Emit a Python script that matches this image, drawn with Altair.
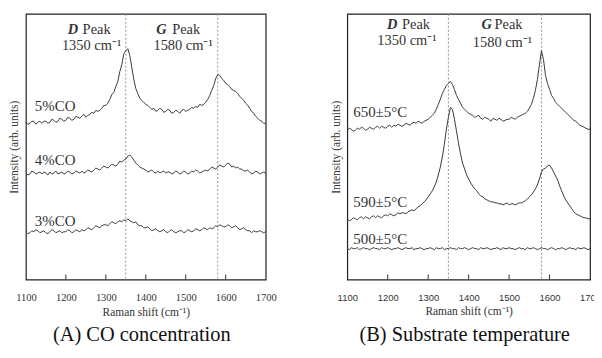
import altair as alt
import pandas as pd

# ---------------- data ----------------
wavenumber = list(range(1100, 1701, 5))

co5 = [157, 155, 156, 158, 158, 155, 157, 158, 156, 158, 158, 156, 157, 160, 159, 157, 158, 161, 160, 158,
       159, 162, 161, 159, 160, 163, 162, 161, 163, 165, 162, 164, 165, 167, 166, 169, 168, 169, 171, 174,
       174, 176, 180, 185, 187, 193, 198, 208, 215, 226, 229, 231, 224, 212, 200, 191, 186, 181, 179, 177,
       175, 174, 172, 170, 171, 168, 169, 171, 170, 167, 168, 170, 169, 166, 167, 169, 168, 166, 169, 170,
       168, 169, 170, 172, 171, 173, 172, 175, 174, 175, 177, 180, 184, 189, 194, 201, 205, 204, 201, 199,
       196, 195, 193, 190, 189, 188, 186, 183, 181, 179, 176, 174, 171, 168, 166, 163, 161, 159, 158, 156,
       156]
co4 = [106, 104, 105, 108, 107, 105, 106, 107, 105, 107, 106, 104, 107, 105, 106, 108, 105, 106, 107, 105,
       106, 108, 107, 105, 106, 108, 107, 106, 108, 106, 107, 109, 108, 107, 109, 111, 110, 109, 111, 113,
       112, 111, 113, 115, 114, 113, 115, 118, 117, 119, 120, 123, 124, 122, 119, 116, 114, 112, 111, 110,
       109, 107, 108, 109, 107, 106, 108, 106, 107, 108, 106, 107, 107, 105, 106, 108, 107, 105, 106, 108,
       107, 105, 106, 108, 107, 109, 108, 106, 107, 108, 109, 108, 110, 112, 111, 110, 112, 114, 113, 112,
       114, 116, 115, 112, 113, 111, 112, 110, 110, 108, 108, 109, 107, 105, 106, 108, 107, 105, 106, 107,
       106]
co3 = [47, 45, 46, 48, 47, 49, 48, 46, 47, 48, 46, 45, 47, 49, 48, 46, 47, 48, 46, 47,
       47, 49, 48, 46, 47, 49, 48, 47, 49, 48, 49, 51, 50, 49, 51, 53, 52, 51, 53, 54,
       54, 53, 55, 57, 56, 55, 57, 58, 57, 59, 58, 60, 58, 57, 56, 57, 54, 53, 53, 51,
       51, 52, 50, 48, 49, 50, 48, 47, 48, 49, 47, 46, 48, 49, 47, 46, 47, 48, 48, 46,
       47, 49, 48, 47, 48, 50, 49, 48, 49, 51, 50, 49, 51, 50, 51, 53, 52, 54, 53, 52,
       52, 54, 53, 51, 52, 53, 51, 49, 50, 51, 49, 48, 48, 46, 48, 47, 47, 48, 47, 46,
       47]

t650 = [149, 151, 150, 148, 149, 151, 150, 152, 151, 149, 150, 152, 151, 150, 152, 153, 151, 153, 152, 151,
        153, 154, 152, 154, 153, 155, 154, 153, 154, 156, 155, 154, 156, 157, 156, 158, 157, 156, 158, 159,
        160, 162, 164, 166, 170, 175, 180, 186, 190, 194, 196, 198, 195, 190, 184, 180, 176, 172, 170, 168,
        166, 165, 164, 162, 163, 164, 161, 160, 162, 161, 160, 158, 161, 160, 159, 161, 160, 158, 159, 160,
        160, 162, 161, 160, 162, 163, 164, 165, 166, 168, 171, 175, 181, 189, 200, 215, 229, 220, 204, 196,
        190, 184, 181, 177, 175, 173, 171, 169, 167, 165, 163, 161, 159, 158, 156, 154, 153, 152, 151, 150,
        150]
t590 = [60, 58, 59, 61, 60, 59, 61, 62, 60, 62, 61, 60, 62, 63, 61, 63, 62, 61, 63, 64,
        63, 65, 64, 63, 64, 66, 65, 66, 66, 65, 67, 68, 69, 68, 70, 72, 73, 75, 77, 79,
        82, 85, 88, 92, 97, 104, 112, 122, 135, 150, 162, 172, 170, 160, 148, 136, 125, 116, 110, 104,
        100, 96, 93, 90, 88, 85, 83, 82, 80, 79, 78, 77, 77, 76, 76, 75, 75, 74, 75, 76,
        74, 75, 75, 74, 75, 76, 76, 77, 78, 80, 82, 84, 87, 90, 94, 100, 107, 110, 111, 113,
        114, 111, 107, 103, 99, 93, 88, 83, 79, 76, 73, 70, 67, 65, 64, 63, 62, 61, 61, 60,
        60]
t500 = [30, 29, 31, 30, 30, 31, 29, 30, 31, 30, 30, 29, 30, 31, 30, 30, 29, 31, 30, 30,
        31, 30, 29, 30, 30, 31, 30, 29, 30, 31, 30, 30, 31, 29, 30, 30, 31, 30, 29, 30,
        30, 31, 30, 29, 31, 30, 30, 31, 29, 30, 30, 31, 30, 30, 29, 31, 30, 30, 31, 30,
        29, 30, 31, 30, 30, 29, 31, 30, 30, 31, 30, 29, 30, 30, 31, 30, 29, 31, 30, 30,
        31, 30, 30, 29, 30, 31, 30, 30, 29, 31, 30, 30, 31, 30, 29, 30, 31, 30, 30, 29,
        30, 31, 30, 29, 30, 30, 31, 30, 29, 30, 31, 30, 30, 29, 31, 30, 30, 31, 30, 29,
        30]

labels_a = ["5%CO", "4%CO", "3%CO"]
labels_b = ["650±5°C", "590±5°C", "500±5°C"]
tick_values = [1100, 1200, 1300, 1400, 1500, 1600, 1700]
inner_ticks = [1200, 1300, 1400, 1500, 1600]
peak_positions = [1350, 1580]
peak_names = ["D", "G"]
peak_texts = ["1350 cm⁻¹", "1580 cm⁻¹"]
captions = ["(A) CO concentration", "(B) Substrate temperature"]

SERIF = "Liberation Serif"
SANS = "Liberation Sans"
INK = "#333333"
H = 267


def one(text, x, y, size=13, font=SERIF, align="left", weight="normal",
        style="normal", color=INK):
    return alt.Chart(pd.DataFrame({"k": [0]})).mark_text(
        text=text, font=font, fontSize=size, align=align, baseline="middle",
        fontWeight=weight, fontStyle=style, color=color
    ).encode(x=alt.value(x), y=alt.value(y))


def panel(series, names, W, label_pos, peak_pos, caption, tick_font, tick_size):
    rows = []
    for name, vals in zip(names, series):
        for w, v in zip(wavenumber, vals):
            rows.append({"shift": w, "v": v, "s": name})
    df = pd.DataFrame(rows)
    xs = alt.Scale(domain=[1100, 1700], nice=False, zero=False)
    ys = alt.Scale(domain=[-1, 266], nice=False, zero=False)
    lines = alt.Chart(df).mark_line(color="#3a3a3a", strokeWidth=1).encode(
        x=alt.X("shift:Q", scale=xs, axis=alt.Axis(
            title="Raman shift (cm⁻¹)", titleFont=SERIF, titleFontSize=11.5,
            titleFontWeight="normal", titleColor=INK, titlePadding=4,
            labelFont=tick_font, labelFontSize=tick_size, labelColor=INK,
            labelPadding=13, ticks=False, domain=False, grid=False,
            values=tick_values, format="d", labelFlush=False, labelOverlap=False)),
        y=alt.Y("v:Q", scale=ys, axis=alt.Axis(
            title="Intensity (arb. units)", titleFont=SERIF, titleFontSize=11.5,
            titleFontWeight="normal", titleColor=INK, titlePadding=6,
            labels=False, ticks=False, domain=False, grid=False)),
        detail="s:N",
    )
    peaks = alt.Chart(pd.DataFrame({"p": peak_positions})).mark_rule(
        color="#888888", strokeDash=[2, 2], strokeWidth=0.9
    ).encode(x=alt.X("p:Q", scale=xs))
    ticks = alt.Chart(pd.DataFrame({"t": inner_ticks})).mark_rule(
        color=INK, strokeWidth=1
    ).encode(x=alt.X("t:Q", scale=xs), y=alt.value(H - 5), y2=alt.value(H))

    layers = [peaks, lines, ticks]
    for name, (lx, ly) in zip(names, label_pos):
        layers.append(one(name, lx, ly, size=15))
    for pn, pt, (dx, px, py, cx, cy) in zip(peak_names, peak_texts, peak_pos):
        layers.append(one(pn, dx, py, size=14.5, weight="bold", style="italic"))
        layers.append(one("Peak", px, py, size=14.5))
        layers.append(one(pt, cx, cy, size=14.5, align="center"))
    layers.append(one(caption, W / 2 - 4, 323, size=20.5, align="center", color="#111111"))
    return alt.layer(*layers).properties(width=W, height=H)


pa = panel([co5, co4, co3], labels_a, 241,
           [(9, 93), (9, 147), (9, 208)],
           [(42, 57, 16, 66, 32), (131, 147, 16, 158, 32)],
           captions[0], SERIF, 10.5)
pb = panel([t650, t590, t500], labels_b, 244,
           [(6, 99), (6, 189), (6, 226)],
           [(40, 55, 11, 60, 27), (135, 148, 11, 156, 29)],
           captions[1], SANS, 9.5)

chart = alt.hconcat(pa, pb, spacing=52).properties(
    padding={"left": 0, "top": 3, "right": -8, "bottom": 0}
).configure_view(stroke="#222222", strokeWidth=1.2)

chart.save("out.html", embed_options={"renderer": "svg", "actions": False})
